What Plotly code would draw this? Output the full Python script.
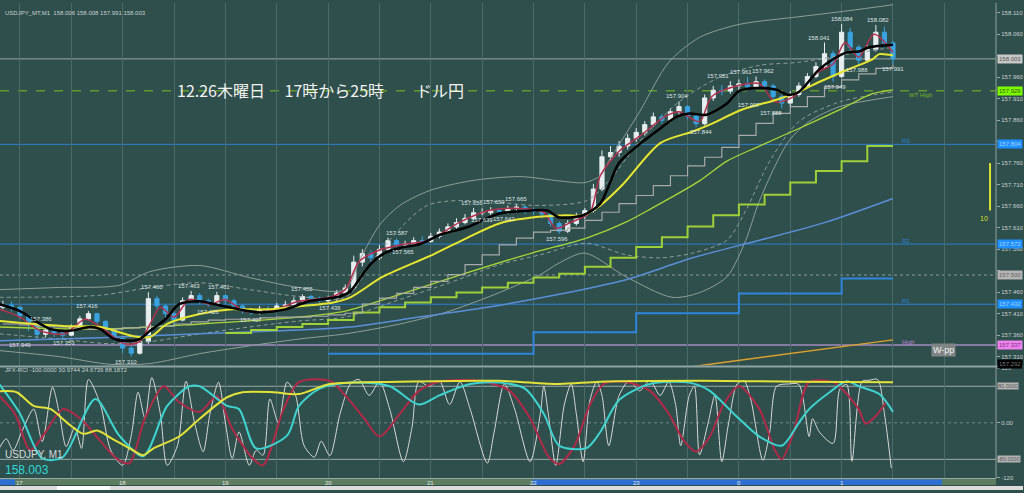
import plotly.graph_objects as go

BG = "#2f4f4c"

# ---------------- price bars: 5-minute bars, minutes after 17:00 ----------------
bar_minutes = list(range(-10, 515, 5))
first_open = 157.425
close = [157.430, 157.425, 157.405, 157.385, 157.362, 157.372, 157.365, 157.360, 157.378, 157.398,
         157.410, 157.392, 157.372, 157.352, 157.330, 157.318, 157.345, 157.445, 157.428, 157.410,
         157.395, 157.440, 157.452, 157.440, 157.432, 157.452, 157.440, 157.428, 157.418, 157.412,
         157.420, 157.418, 157.428, 157.430, 157.440, 157.450, 157.446, 157.440, 157.445, 157.458,
         157.470, 157.530, 157.550, 157.540, 157.560, 157.580, 157.570, 157.572, 157.580, 157.578,
         157.590, 157.600, 157.612, 157.622, 157.632, 157.645, 157.645, 157.650, 157.648, 157.655,
         157.658, 157.650, 157.648, 157.642, 157.620, 157.602, 157.620, 157.638, 157.650, 157.700,
         157.775, 157.785, 157.800, 157.818, 157.832, 157.850, 157.868, 157.860, 157.880, 157.892,
         157.870, 157.852, 157.912, 157.930, 157.928, 157.940, 157.945, 157.938, 157.950, 157.940,
         157.915, 157.900, 157.920, 157.940, 157.962, 157.985, 158.015, 157.962, 158.065, 158.030,
         158.000, 158.025, 158.065, 158.040, 158.003]
high = [157.440, 157.438, 157.428, 157.408, 157.390, 157.386, 157.380, 157.372, 157.385, 157.405,
        157.416, 157.412, 157.395, 157.375, 157.355, 157.335, 157.350, 157.460, 157.452, 157.432,
        157.415, 157.448, 157.463, 157.458, 157.445, 157.461, 157.455, 157.445, 157.432, 157.422,
        157.428, 157.428, 157.435, 157.440, 157.448, 157.455, 157.454, 157.450, 157.452, 157.465,
        157.478, 157.545, 157.560, 157.558, 157.570, 157.587, 157.585, 157.580, 157.588, 157.590,
        157.598, 157.608, 157.620, 157.632, 157.642, 157.656, 157.655, 157.658, 157.656, 157.662,
        157.665, 157.662, 157.656, 157.652, 157.645, 157.625, 157.628, 157.645, 157.656, 157.712,
        157.790, 157.800, 157.812, 157.828, 157.842, 157.858, 157.878, 157.875, 157.888, 157.904,
        157.895, 157.875, 157.920, 157.940, 157.942, 157.951, 157.955, 157.961, 157.962, 157.955,
        157.945, 157.920, 157.928, 157.948, 157.970, 157.995, 158.041, 158.022, 158.084, 158.075,
        158.035, 158.035, 158.082, 158.078, 158.045]
low = [157.420, 157.415, 157.398, 157.370, 157.349, 157.355, 157.356, 157.353, 157.358, 157.375,
       157.395, 157.385, 157.365, 157.345, 157.318, 157.310, 157.315, 157.340, 157.420, 157.400,
       157.385, 157.392, 157.435, 157.432, 157.426, 157.430, 157.432, 157.420, 157.410, 157.407,
       157.408, 157.410, 157.414, 157.422, 157.426, 157.436, 157.438, 157.436, 157.436, 157.440,
       157.452, 157.465, 157.520, 157.530, 157.535, 157.555, 157.565, 157.565, 157.568, 157.570,
       157.575, 157.585, 157.598, 157.608, 157.618, 157.628, 157.639, 157.639, 157.640, 157.642,
       157.645, 157.642, 157.640, 157.632, 157.612, 157.596, 157.598, 157.615, 157.630, 157.645,
       157.695, 157.765, 157.775, 157.792, 157.810, 157.825, 157.845, 157.852, 157.855, 157.872,
       157.862, 157.844, 157.848, 157.905, 157.918, 157.922, 157.930, 157.930, 157.932, 157.930,
       157.905, 157.888, 157.892, 157.915, 157.935, 157.958, 157.980, 157.949, 157.958, 158.020,
       157.988, 157.995, 158.020, 158.030, 157.991]

# ---------------- moving averages (minutes, price) ----------------
black_t = [-12, 0, 12, 18, 29, 41, 47, 55, 64, 70, 76, 85, 93, 105, 114, 128, 140, 155, 169, 187,
           193, 198, 205, 213, 222, 234, 245, 261, 280, 299, 308, 315, 329, 339, 344, 350, 364, 374,
           384, 391, 401, 413, 420, 432, 442, 449, 455, 467, 475, 483, 490, 496, 510]
black_v = [157.432, 157.416, 157.386, 157.374, 157.370, 157.379, 157.374, 157.351, 157.347, 157.351,
           157.370, 157.397, 157.432, 157.439, 157.432, 157.420, 157.413, 157.420, 157.439, 157.450,
           157.462, 157.489, 157.526, 157.551, 157.563, 157.572, 157.593, 157.611, 157.643, 157.650,
           157.650, 157.634, 157.639, 157.666, 157.708, 157.761, 157.811, 157.841, 157.869, 157.876,
           157.873, 157.899, 157.928, 157.935, 157.931, 157.919, 157.926, 157.979, 158.002, 158.018,
           158.020, 158.030, 158.036]
yellow_t = [-12, 8, 27, 47, 66, 76, 86, 105, 124, 144, 163, 183, 193, 212, 241, 261, 280, 299, 319,
            329, 339, 352, 374, 393, 403, 422, 442, 455, 463, 483, 498, 502, 510]
yellow_v = [157.393, 157.386, 157.381, 157.379, 157.358, 157.356, 157.386, 157.409, 157.420, 157.420,
            157.427, 157.436, 157.448, 157.496, 157.547, 157.586, 157.620, 157.634, 157.639, 157.639,
            157.662, 157.710, 157.807, 157.834, 157.850, 157.885, 157.908, 157.926, 157.942, 157.977,
            158.002, 158.014, 158.011]
red_t = [-12, 0, 12, 26, 38, 47, 61, 70, 76, 82, 90, 99, 111, 120, 131, 146, 163, 181, 190, 198,
         210, 222, 239, 257, 274, 292, 306, 313, 322, 333, 339, 350, 362, 377, 385, 397, 404, 417,
         432, 441, 452, 466, 475, 482, 490, 499, 510]
red_v = [157.420, 157.402, 157.370, 157.363, 157.397, 157.379, 157.340, 157.345, 157.386, 157.425,
         157.402, 157.443, 157.432, 157.443, 157.416, 157.416, 157.439, 157.448, 157.466, 157.531,
         157.558, 157.570, 157.581, 157.623, 157.650, 157.655, 157.646, 157.609, 157.623, 157.646,
         157.731, 157.788, 157.823, 157.869, 157.880, 157.857, 157.915, 157.938, 157.945, 157.903,
         157.915, 157.972, 157.991, 158.041, 158.007, 158.060, 158.018]
lime_t = [-12, 47, 105, 163, 190, 222, 261, 299, 331, 354, 369, 397, 413, 432, 455, 479, 498, 510]
lime_v = [157.379, 157.374, 157.386, 157.402, 157.416, 157.455, 157.505, 157.551, 157.586, 157.623,
          157.655, 157.719, 157.765, 157.800, 157.841, 157.885, 157.922, 157.931]
gray_step_t = list(range(-10, 511, 10))
gray_step_v = [157.386, 157.384, 157.381, 157.379, 157.377, 157.374, 157.374, 157.377, 157.379, 157.381,
               157.386, 157.391, 157.395, 157.397, 157.397, 157.400, 157.402, 157.402, 157.404, 157.407,
               157.411, 157.432, 157.446, 157.457, 157.471, 157.485, 157.501, 157.524, 157.547, 157.570,
               157.586, 157.600, 157.604, 157.609, 157.627, 157.646, 157.666, 157.685, 157.708, 157.731,
               157.754, 157.774, 157.797, 157.825, 157.853, 157.876, 157.892, 157.915, 157.938, 157.954,
               157.968, 157.981, 157.990]
green_step_t = [120, 135, 150, 165, 180, 195, 210, 225, 240, 255, 270, 285, 300, 315, 330, 345, 360,
                375, 390, 405, 420, 435, 450, 465, 480, 495, 510]
green_step_v = [157.365, 157.372, 157.379, 157.386, 157.395, 157.413, 157.425, 157.436, 157.448, 157.459,
                157.471, 157.482, 157.494, 157.503, 157.519, 157.540, 157.565, 157.588, 157.613, 157.639,
                157.664, 157.687, 157.715, 157.742, 157.765, 157.800, 157.800]
blue_t = [-12, 47, 105, 163, 193, 233, 273, 315, 354, 393, 432, 471, 510]
blue_v = [157.347, 157.354, 157.363, 157.372, 157.379, 157.402, 157.425, 157.455, 157.489, 157.540,
          157.581, 157.623, 157.678]
blue_step_t = [180, 240, 300, 360, 420, 480, 510]
blue_step_v = [157.317, 157.317, 157.367, 157.411, 157.457, 157.492, 157.492]
orange_t = [380, 510]
orange_v = [157.280, 157.349]

# Bollinger style envelopes
bb_up2_t = [-12, 23, 58, 76, 105, 134, 163, 190, 198, 210, 222, 239, 263, 292, 315, 330, 339, 344,
            362, 379, 397, 420, 455, 484, 510]
bb_up2_v = [157.466, 157.471, 157.476, 157.508, 157.522, 157.494, 157.471, 157.466, 157.531, 157.616,
            157.662, 157.696, 157.719, 157.729, 157.719, 157.715, 157.731, 157.765, 157.880, 157.995,
            158.053, 158.083, 158.101, 158.115, 158.129]
bb_up1_t = [-12, 47, 76, 105, 134, 163, 190, 210, 238, 270, 299, 331, 344, 362, 385, 409, 432, 455,
            484, 510]
bb_up1_v = [157.448, 157.453, 157.471, 157.482, 157.466, 157.450, 157.448, 157.554, 157.662, 157.673,
            157.662, 157.673, 157.719, 157.811, 157.903, 157.961, 157.988, 157.995, 158.014, 158.030]
bb_lo1_t = [-12, 23, 53, 76, 105, 134, 163, 190, 222, 251, 280, 304, 331, 354, 374, 393, 413, 424,
            438, 455, 479, 510]
bb_lo1_v = [157.363, 157.351, 157.340, 157.345, 157.363, 157.379, 157.393, 157.402, 157.443, 157.482,
            157.524, 157.547, 157.574, 157.547, 157.540, 157.551, 157.581, 157.650, 157.765, 157.857,
            157.903, 157.926]
bb_lo2_t = [-12, 23, 53, 76, 105, 134, 163, 190, 222, 251, 280, 304, 315, 330, 354, 381, 397, 413,
            424, 432, 449, 461, 479, 510]
bb_lo2_v = [157.324, 157.310, 157.292, 157.294, 157.317, 157.335, 157.351, 157.363, 157.386, 157.416,
            157.459, 157.501, 157.528, 157.551, 157.496, 157.448, 157.459, 157.496, 157.581, 157.673,
            157.811, 157.857, 157.892, 157.915]

# ---------------- horizontal levels ----------------
level_values = [158.003, 157.929, 157.804, 157.572, 157.500, 157.432, 157.337]
level_names = ["", "WT High", "R3", "R2", "", "R1", "High"]
box_values = [158.003, 157.929, 157.804, 157.572, 157.500, 157.432, 157.337, 157.292]

# ---------------- high / low price labels ----------------
hi_label_t = [12, 39, 77, 99, 116, 165, 220, 264, 277, 290, 384, 408, 421, 434, 467, 480, 501]
hi_label_v = [157.386, 157.416, 157.460, 157.463, 157.461, 157.455, 157.587, 157.656, 157.659, 157.665,
              157.904, 157.951, 157.961, 157.962, 158.041, 158.084, 158.082]
lo_label_t = [0, 26, 62, 110, 135, 181, 224, 270, 283, 314, 398, 426, 439, 476, 489, 510]
lo_label_v = [157.349, 157.353, 157.310, 157.426, 157.407, 157.436, 157.565, 157.639, 157.642, 157.596,
              157.844, 157.907, 157.888, 157.949, 157.988, 157.991]

# ---------------- RCI panel ----------------
rci_white_t = [-12, -8, -4, 1, 8, 13, 19, 23, 27, 32, 36, 40, 47, 53, 60, 65, 69, 73, 77, 82, 86, 92,
               97, 102, 107, 111, 116, 120, 124, 128, 134, 138, 142, 146, 151, 156, 161, 166, 172, 176,
               181, 187, 193, 198, 204, 210, 216, 224, 229, 233, 239, 245, 251, 257, 263, 273, 277, 283,
               289, 298, 304, 306, 309, 313, 318, 322, 325, 329, 333, 337, 340, 344, 350, 356, 362, 368,
               374, 379, 383, 386, 391, 394, 397, 402, 406, 410, 414, 419, 423, 427, 434, 438, 442, 449,
               455, 461, 463, 467, 475, 479, 483, 486, 492, 496, 501, 505, 509]
rci_white_v = [-55, -35, -60, -20, 30, -41, 78, 20, -52, -10, -56, 95, 40, -60, -93, -28, 67, 10, 99, 20,
               -93, -50, 91, 0, -63, 20, 89, 0, -78, -20, -93, -60, -71, 52, 0, 89, 60, -50, -75, -40,
               -72, 20, 85, 95, 60, 90, 30, -85, -10, 90, 80, 92, 40, 90, 30, -88, -20, 85, 30, -85,
               20, 80, 10, -93, 40, 85, 20, -85, 50, 90, 60, -50, 60, 92, 70, 93, 60, 90, 40, -50,
               60, 80, -70, 0, 60, -85, 0, 85, 92, 50, -82, -20, 80, 85, 84, -30, 9, -20, -45, 74,
               84, -84, 91, 93, 95, 20, -99]
rci_red_t = [-12, -3, 6, 15, 25, 35, 47, 57, 64, 73, 84, 93, 105, 115, 124, 136, 142, 154, 163, 181,
             190, 201, 210, 222, 233, 245, 268, 286, 298, 309, 315, 324, 333, 341, 353, 368, 379, 388,
             395, 403, 411, 420, 432, 441, 445, 452, 461, 475, 480, 490, 494, 500, 506]
rci_red_v = [58, 20, -60, -20, 30, 10, -40, -80, -88, 10, 80, 45, 24, 58, -13, -78, -93, 30, 89, 92,
             60, 10, -30, 20, 70, 90, 92, 70, 10, -75, -90, -50, 40, 85, 90, 70, 20, -40, -63, -30,
             40, 80, 30, -60, -80, -20, 89, 89, 75, 30, -2, 15, 45]
rci_cyan_t = [-12, 0, 13, 25, 44, 58, 72, 86, 99, 105, 121, 128, 138, 156, 163, 175, 193, 216, 233,
              245, 263, 280, 295, 306, 315, 331, 339, 350, 368, 391, 403, 417, 432, 445, 455, 461, 473,
              483, 490, 502, 510]
rci_cyan_v = [84, 20, -78, -75, 52, -28, -73, 37, 80, 80, 37, 30, -56, -28, 37, 75, 88, 80, 40, 60,
              85, 88, 75, 20, -50, -55, -20, 50, 85, 88, 70, 20, -30, -50, 0, 30, 67, 91, 80, 63, 24]
rci_yellow_t = [-12, -2, 8, 18, 27, 37, 45, 54, 66, 72, 78, 93, 105, 121, 130, 148, 163, 181, 222,
                280, 315, 339, 397, 455, 510]
rci_yellow_v = [69, 67, 37, 30, 2, -24, -17, -35, -60, -71, -56, -30, 9, 56, 67, 67, 63, 85, 90, 92,
                85, 90, 92, 90, 89]

# ---------------- axes ----------------
price_ticks = [157.310, 157.360, 157.410, 157.460, 157.510, 157.560, 157.610, 157.660, 157.710,
               157.760, 157.810, 157.860, 157.910, 157.960, 158.010, 158.060, 158.110]
covered_ticks = [157.510, 157.810, 158.010]   # hidden behind the level boxes
hour_minutes = [0, 60, 120, 180, 240, 300, 360, 420, 480]
hour_labels = ["17", "18", "19", "20", "21", "22", "23", "0", "1"]

W, H = 1024, 493
XR = 997 / W
MAIN_DOM = [1 - 367 / H, 1.0]
RCI_DOM = [1 - 480.5 / H, 1 - 369.5 / H]
SMALL = dict(family="Liberation Sans", size=6)

fig = go.Figure()


def add_line(t, v, color, width, shape="spline", dash=None, ax=("x", "y")):
    fig.add_trace(go.Scatter(x=t, y=v, mode="lines", xaxis=ax[0], yaxis=ax[1],
                             line=dict(color=color, width=width, shape=shape, dash=dash,
                                       **({"smoothing": 0.8} if shape == "spline" else {})),
                             hoverinfo="skip", showlegend=False))


add_line(bb_up2_t, bb_up2_v, "#8e9e9a", 1)
add_line(bb_lo2_t, bb_lo2_v, "#8e9e9a", 1)
add_line(bb_up1_t, bb_up1_v, "#8e9e9a", 1, dash="4px,3px")
add_line(bb_lo1_t, bb_lo1_v, "#8e9e9a", 1, dash="4px,3px")
add_line(orange_t, orange_v, "#d9a030", 1.5, shape="linear")
add_line(blue_t, blue_v, "#5a8fd8", 1.5)
add_line(blue_step_t, blue_step_v, "#2f86dc", 2, shape="hv")
add_line(green_step_t, green_step_v, "#9fd03a", 2, shape="hv")
add_line(lime_t, lime_v, "#a8d43a", 1.3)
add_line(gray_step_t, gray_step_v, "#a9a9a9", 1.2, shape="hv")

opens = [first_open] + close[:-1]
fig.add_trace(go.Candlestick(x=bar_minutes, open=opens, high=high, low=low, close=close,
                             increasing=dict(line=dict(color="#e6eef0", width=1), fillcolor="#e6eef0"),
                             decreasing=dict(line=dict(color="#3aa2de", width=1), fillcolor="#3aa2de"),
                             whiskerwidth=0, xaxis="x", yaxis="y", showlegend=False, hoverinfo="skip"))

add_line(red_t, red_v, "#b3304e", 1.5)
add_line(yellow_t, yellow_v, "#e6e632", 2)
add_line(black_t, black_v, "#000000", 2.5)

# RCI
add_line(rci_white_t, rci_white_v, "#d8d8d8", 1, ax=("x2", "y2"))
add_line(rci_red_t, rci_red_v, "#b02a48", 2, ax=("x2", "y2"))
add_line(rci_cyan_t, rci_cyan_v, "#3fd3d0", 2, ax=("x2", "y2"))
add_line(rci_yellow_t, rci_yellow_v, "#e2e23a", 2, ax=("x2", "y2"))

shapes = []
level_style = [("#9aa8a8", 1, "solid"), ("#5f9a2a", 1.5, "dash"), ("#2b7fd0", 1, "solid"),
               ("#2b7fd0", 1, "solid"), ("#8a9a9a", 1, "dot"), ("#2b7fd0", 1, "solid"),
               ("#a58ac0", 1.5, "solid")]
for val, (col, w, d) in zip(level_values, level_style):
    shapes.append(dict(type="line", xref="x domain", yref="y", x0=0, x1=1, y0=val, y1=val,
                       line=dict(color=col, width=w, dash=d), layer="below"))
for lv in [80, -80]:
    shapes.append(dict(type="line", xref="x2 domain", yref="y2", x0=0, x1=1, y0=lv, y1=lv,
                       line=dict(color="#9aaaa8", width=1), layer="below"))
shapes.append(dict(type="line", xref="x2 domain", yref="y2", x0=0, x1=1, y0=0, y1=0,
                   line=dict(color="#6f8a88", width=1, dash="dot"), layer="below"))
# panel separators
shapes.append(dict(type="line", xref="paper", yref="paper", x0=0, x1=1, y0=1 - 368 / H, y1=1 - 368 / H,
                   line=dict(color="#8fa3a3", width=2)))
shapes.append(dict(type="line", xref="paper", yref="paper", x0=XR, x1=XR, y0=1 - 481 / H, y1=1,
                   line=dict(color="#8fa3a3", width=1)))
# time bar
shapes.append(dict(type="rect", xref="paper", yref="paper", x0=0, x1=XR, y0=1 - 488 / H, y1=1 - 482 / H,
                   fillcolor="#5d7d60", line=dict(width=0)))
shapes.append(dict(type="rect", xref="paper", yref="paper", x0=533 / W, x1=943 / W, y0=1 - 488 / H,
                   y1=1 - 482 / H, fillcolor="#2d6fd0", line=dict(width=0)))
shapes.append(dict(type="rect", xref="paper", yref="paper", x0=0, x1=15 / W, y0=1 - 488 / H,
                   y1=1 - 482 / H, fillcolor="#2d6fd0", line=dict(width=0)))
shapes.append(dict(type="line", xref="paper", yref="paper", x0=0, x1=XR, y0=1 - 481.5 / H, y1=1 - 481.5 / H,
                   line=dict(color="#a7b8a8", width=1)))
shapes.append(dict(type="rect", xref="paper", yref="paper", x0=0, x1=1, y0=0, y1=1 - 489 / H,
                   fillcolor="#dcdcdc", line=dict(width=0)))
shapes.append(dict(type="rect", xref="paper", yref="paper", x0=57 / W, x1=110 / W, y0=0, y1=1 - 489 / H,
                   fillcolor="#ffffff", line=dict(width=0)))
# yellow scale bar
shapes.append(dict(type="line", xref="paper", yref="paper", x0=991 / W, x1=991 / W, y0=1 - 210 / H,
                   y1=1 - 162 / H, line=dict(color="#d8e030", width=2)))

ann = []
for t, v in zip(hi_label_t, hi_label_v):
    ann.append(dict(x=t, y=v, xref="x", yref="y", text=f"{v:.3f}", showarrow=False, yshift=5,
                    font=dict(SMALL, color="#dfe4e4")))
for t, v in zip(lo_label_t, lo_label_v):
    ann.append(dict(x=t, y=v, xref="x", yref="y", text=f"{v:.3f}", showarrow=False, yshift=-5,
                    font=dict(SMALL, color="#dfe4e4")))

name_colors = {"WT High": "#7ab52a", "R3": "#2b80d8", "R2": "#2b80d8", "R1": "#2b80d8", "High": "#c080d0"}
for val, nm in zip(level_values, level_names):
    if nm:
        ann.append(dict(x=518 if nm == "WT High" else 514, y=val, xref="x", yref="y", text=nm,
                        showarrow=False, xanchor="left", yshift=-4 if nm == "WT High" else 3,
                        font=dict(SMALL, color=name_colors[nm])))

box_bg = ["#c8c8c8", "#7cfc00", "#1e90ff", "#1e90ff", "#b4b4b4", "#1e90ff", "#ee82ee", "#000000"]
box_fg = ["#555555", "#3a5a00", "#a8d4ff", "#a8d4ff", "#666666", "#a8d4ff", "#7a307a", "#777777"]
for val, bg, fg in zip(box_values, box_bg, box_fg):
    ann.append(dict(x=998 / W, y=val, xref="paper", yref="y", text=f"{val:.3f}", showarrow=False,
                    xanchor="left", bgcolor=bg, borderpad=1,
                    font=dict(SMALL, color=fg)))
for val in [80, -80]:
    ann.append(dict(x=998 / W, y=val, xref="paper", yref="y2", text=f"{val:.4f}", showarrow=False,
                    xanchor="left", bgcolor="#b4b4b4", borderpad=0,
                    font=dict(family="Liberation Sans", size=5.5, color="#555555")))

for t, lab in zip(hour_minutes, hour_labels):
    ann.append(dict(x=t, y=1 - 482 / H, xref="x", yref="paper", text=lab, showarrow=False,
                    yanchor="top", borderpad=0, font=dict(SMALL, color="#e6e6e6")))

ann.append(dict(x=175 / W, y=1 - 74 / H, xref="paper", yref="paper", xanchor="left",
                text="12.26木曜日　 17時から25時　　ドル円", showarrow=False,
                font=dict(family="Noto Sans CJK JP", size=16, color="#f2f2f2")))
ann.append(dict(x=3 / W, y=1 - 5 / H, xref="paper", yref="paper", xanchor="left",
                text="USDJPY_MT,M1  158.006 158.008 157.991 158.003", showarrow=False,
                font=dict(SMALL, color="#c8d0d0")))
ann.append(dict(x=3 / W, y=1 - 377 / H, xref="paper", yref="paper", xanchor="left",
                text="JFX-RCI -100.0000 30.9744 24.6739 88.1872", showarrow=False,
                font=dict(SMALL, color="#c8d0d0")))
ann.append(dict(x=4 / W, y=1 - 464 / H, xref="paper", yref="paper", xanchor="left", yanchor="bottom",
                text="USDJPY, M1", showarrow=False, borderpad=0,
                font=dict(family="Liberation Sans", size=10, color="#d8dcdc")))
ann.append(dict(x=4 / W, y=1 - 464.5 / H, xref="paper", yref="paper", xanchor="left", yanchor="top",
                text="158.003", showarrow=False, borderpad=0,
                font=dict(family="Liberation Sans", size=12, color="#30d8d8")))
ann.append(dict(x=957 / W, y=1 - 358 / H, xref="paper", yref="paper", text="W-pp", showarrow=False,
                bgcolor="#7f8584", borderpad=1,
                font=dict(family="Liberation Sans", size=9, color="#f0f0f0")))
ann.append(dict(x=991 / W, y=1 - 213 / H, xref="paper", yref="paper", text="10", showarrow=False,
                yanchor="top", font=dict(family="Liberation Sans", size=7, color="#d8e030")))

xgrid = dict(range=[-11.67, 570.2], domain=[0, XR], showticklabels=False, showgrid=True,
             gridcolor="#4b6a67", gridwidth=1, tick0=0, dtick=30, zeroline=False, ticks="",
             showline=False, fixedrange=True)

fig.update_layout(
    width=W, height=H, margin=dict(l=0, r=0, t=0, b=0), autosize=False,
    paper_bgcolor=BG, plot_bgcolor=BG, showlegend=False,
    xaxis=dict(**xgrid, anchor="y", rangeslider=dict(visible=False)),
    xaxis2=dict(**xgrid, anchor="y2", matches="x"),
    yaxis=dict(domain=MAIN_DOM, range=[157.2893, 158.133], side="right", anchor="x",
               tickvals=price_ticks,
               ticktext=["" if p in covered_ticks else f"{p:.3f}" for p in price_ticks],
               tickfont=dict(SMALL, color="#c8d0d0"),
               ticks="outside", ticklen=3, tickcolor="#a0a8a8", showgrid=False, zeroline=False,
               showline=False, fixedrange=True),
    yaxis2=dict(domain=RCI_DOM, range=[-120, 120], side="right", anchor="x2",
                tickvals=[120, 0, -120], ticktext=["120", "0.00", "-120"],
                tickfont=dict(SMALL, color="#c8d0d0"),
                ticks="outside", ticklen=3, tickcolor="#a0a8a8", showgrid=False, zeroline=False,
                showline=False, fixedrange=True),
    shapes=shapes, annotations=ann,
)

fig.write_html("out.html")
